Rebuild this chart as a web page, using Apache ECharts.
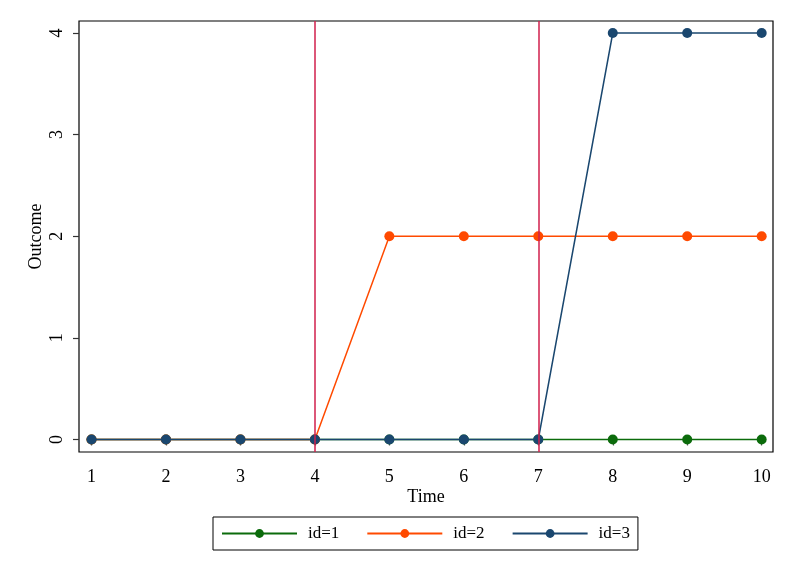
<!DOCTYPE html>
<html>
<head>
<meta charset="utf-8">
<script src="https://cdn.jsdelivr.net/npm/echarts@6/dist/echarts.min.js"></script>
<style>html,body{margin:0;padding:0;background:#fff;}#c{width:795px;height:578px;}</style>
</head>
<body>
<div id="c"></div>
<script>
var time = [1, 2, 3, 4, 5, 6, 7, 8, 9, 10];
var id1 = [0, 0, 0, 0, 0, 0, 0, 0, 0, 0];
var id2 = [0, 0, 0, 0, 2, 2, 2, 2, 2, 2];
var id3 = [0, 0, 0, 0, 0, 0, 0, 4, 4, 4];
var vlines = [4, 7];
var seriesNames = ['id=1', 'id=2', 'id=3'];
var colors = ['#0b6b0b', '#ff4a00', '#1a476f'];

function pairs(ys) { return time.map(function (t, i) { return [t, ys[i]]; }); }

var font = 'Liberation Serif';
var chart = echarts.init(document.getElementById('c'), null, { renderer: 'canvas' });
var mk = function (name, ys, color, z) {
  return {
    name: name, type: 'line', data: pairs(ys), z: z,
    symbol: 'circle', symbolSize: 10, showSymbol: true,
    lineStyle: { color: color, width: 1.5 },
    itemStyle: { color: color },
    emphasis: { disabled: true }, animation: false
  };
};
chart.setOption({
  animation: false,
  textStyle: { fontFamily: font },
  grid: { left: 79, right: 22, top: 21, bottom: 126, show: true, borderColor: '#000', borderWidth: 1.2, backgroundColor: '#fff' },
  xAxis: {
    type: 'value', min: 0.832, max: 10.152, interval: 1,
    name: 'Time', nameLocation: 'middle', nameGap: 36, nameMoveOverlap: false,
    nameTextStyle: { fontFamily: font, fontSize: 18, color: '#000' },
    axisLine: { show: false },
    axisTick: { show: true, length: 6, lineStyle: { color: '#555', width: 1.2 }, customValues: time },
    axisLabel: { fontFamily: font, fontSize: 18, color: '#000', margin: 16, customValues: time },
    splitLine: { show: false }
  },
  yAxis: {
    type: 'value', min: -0.123, max: 4.118,
    name: 'Outcome', nameLocation: 'middle', nameGap: 34, nameRotate: 90, nameMoveOverlap: false,
    nameTextStyle: { fontFamily: font, fontSize: 18, color: '#000' },
    axisLine: { show: false },
    axisTick: { show: true, length: 6, lineStyle: { color: '#333', width: 1.2 }, customValues: [0, 1, 2, 3, 4] },
    axisLabel: { fontFamily: font, fontSize: 18, color: '#000', rotate: 90, margin: 13, customValues: [0, 1, 2, 3, 4] },
    splitLine: { show: false }
  },
  legend: {
    data: seriesNames, top: 517, left: 213,
    itemWidth: 75, itemHeight: 11, itemGap: 27,
    padding: [8, 8, 8, 8],
    borderColor: '#000', borderWidth: 1,
    textStyle: { fontFamily: font, fontSize: 17, color: '#000', padding: [0, 0, 0, 6] }
  },
  series: [
    {
      type: 'line', data: [], z: 1, silent: true,
      markLine: {
        silent: true, symbol: ['none', 'none'], animation: false,
        label: { show: false },
        lineStyle: { color: '#d11f4c', width: 1.5, type: 'solid' },
        data: vlines.map(function (v) { return { xAxis: v }; })
      }
    },
    mk(seriesNames[0], id1, colors[0], 2),
    mk(seriesNames[1], id2, colors[1], 3),
    mk(seriesNames[2], id3, colors[2], 4)
  ]
});
</script>
</body>
</html>
